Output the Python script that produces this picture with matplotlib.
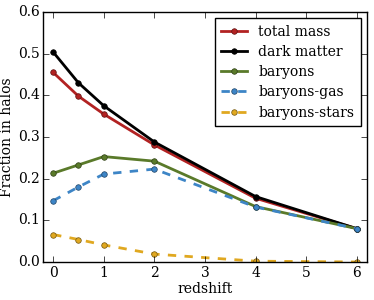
import matplotlib
matplotlib.use("Agg")
import matplotlib.pyplot as plt

plt.style.use('classic')
plt.rcParams['font.family'] = 'DejaVu Serif'
plt.rcParams['font.size'] = 10

redshift = [0, 0.5, 1, 2, 4, 6]
total_mass = [0.455, 0.398, 0.355, 0.281, 0.153, 0.080]
dark_matter = [0.504, 0.430, 0.375, 0.288, 0.157, 0.080]
baryons = [0.213, 0.233, 0.253, 0.242, 0.133, 0.080]
baryons_gas = [0.147, 0.180, 0.211, 0.223, 0.132, 0.080]
baryons_stars = [0.066, 0.054, 0.041, 0.019, 0.002, 0.000]

fig = plt.figure(figsize=(3.74, 3.0), dpi=100, facecolor='white')
ax = fig.add_axes([43/374, 1 - 262/300, (367-43)/374, (262-12)/300])

ms = 4
ax.plot(redshift, total_mass, '-o', color='#b22222', lw=2, ms=ms, mec='#5a1010', label='total mass')
ax.plot(redshift, dark_matter, '-o', color='black', lw=2, ms=ms, mec='black', label='dark matter')
ax.plot(redshift, baryons, '-o', color='#5a7a2a', lw=2, ms=ms, mec='#2d3d15', label='baryons')
ax.plot(redshift, baryons_gas, '--o', color='#3d85c6', lw=2, ms=ms, mec='#1f4263', label='baryons-gas')
ax.plot(redshift, baryons_stars, '--o', color='#e0a820', lw=2, ms=ms, mec='#70540f', label='baryons-stars')

ax.set_xlim(-0.2, 6.2)
ax.set_ylim(0, 0.6)
ax.set_xticks([0, 1, 2, 3, 4, 5, 6])
ax.set_yticks([0.0, 0.1, 0.2, 0.3, 0.4, 0.5, 0.6])
ax.tick_params(axis='x', pad=3)
ax.tick_params(axis='y', pad=2)
ax.set_xlabel('redshift', labelpad=1)
ax.set_ylabel('Fraction in halos', labelpad=3)
ax.legend(loc='upper right', numpoints=1, fontsize=10, handlelength=1.9,
          borderpad=0.45, labelspacing=0.45, fancybox=False, borderaxespad=0.45)

fig.savefig('out.png', dpi=100, facecolor='white')
